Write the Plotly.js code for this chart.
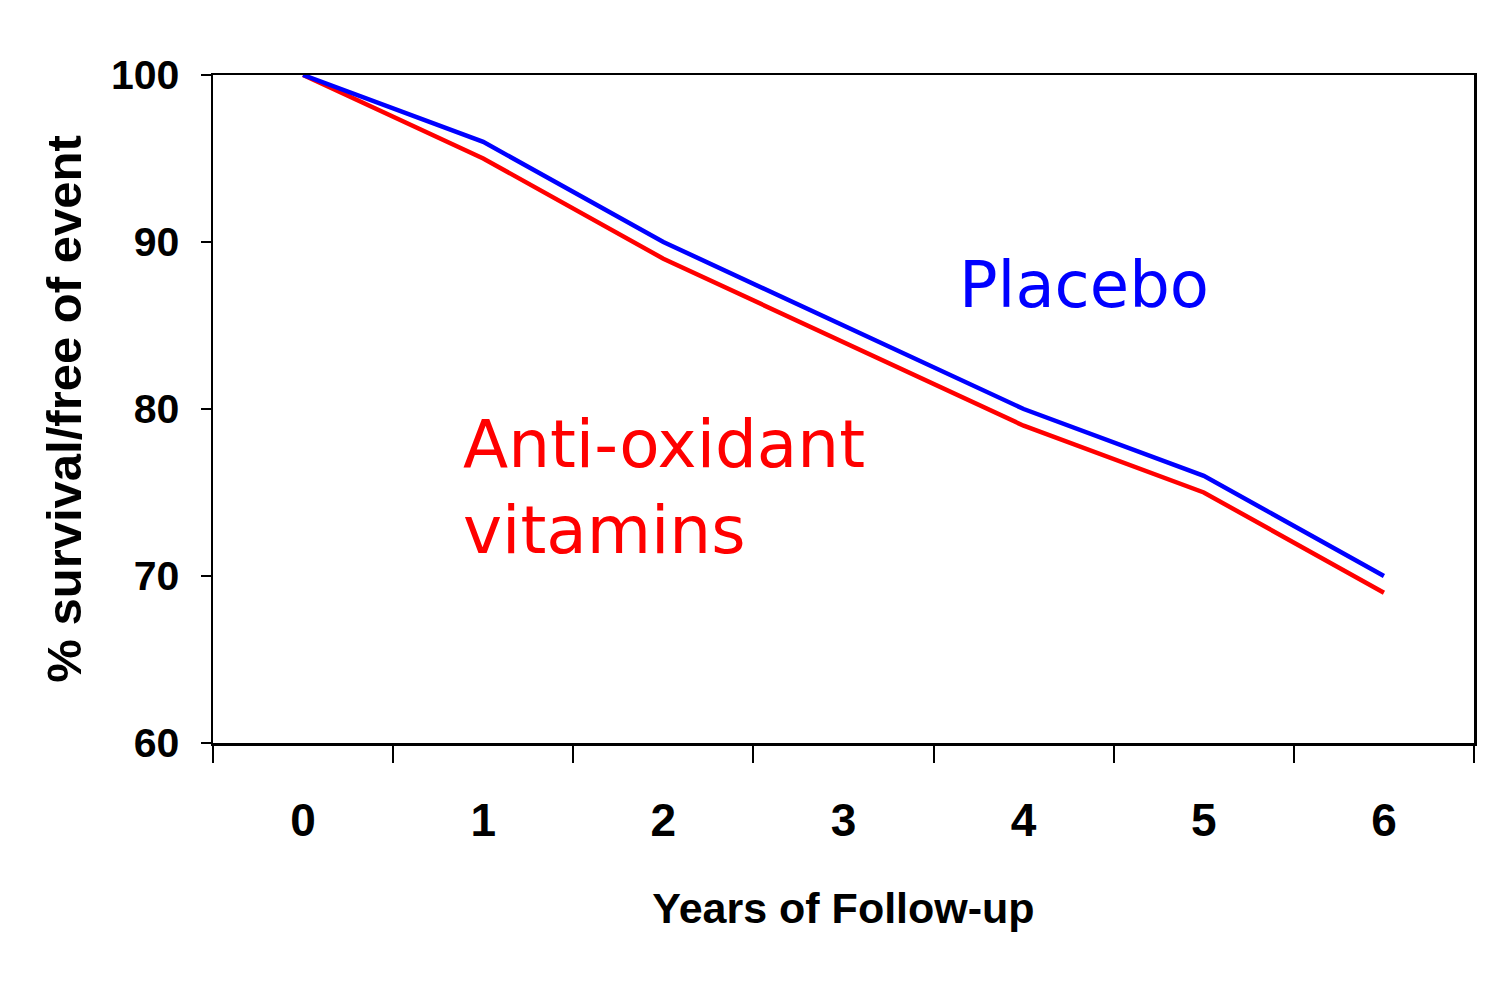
<!DOCTYPE html>
<html>
<head>
<meta charset="utf-8">
<script src="https://cdn.plot.ly/plotly-3.0.1.min.js"></script>
<style>html,body{margin:0;padding:0;background:#fff;}#chart{width:1502px;height:990px;}</style>
</head>
<body>
<div id="chart"></div>
<script>
const years = ['0', '1', '2', '3', '4', '5', '6'];
const placebo = [100, 96, 90, 85, 80, 76, 70];
const antioxidant = [100, 95, 89, 84, 79, 75, 69];
const yTicks = [60, 70, 80, 90, 100];

const arialBold = '"Liberation Sans", Arial, sans-serif';

const traces = [
  {x: years, y: antioxidant, type: 'scatter', mode: 'lines', name: 'Anti-oxidant vitamins',
   line: {color: '#FF0000', width: 4.5}},
  {x: years, y: placebo, type: 'scatter', mode: 'lines', name: 'Placebo',
   line: {color: '#0000FF', width: 4.5}}
];

const layout = {
  width: 1502, height: 990,
  margin: {l: 213, r: 28, t: 75, b: 247},
  paper_bgcolor: '#fff', plot_bgcolor: '#fff',
  showlegend: false,
  xaxis: {
    type: 'category', range: [-0.5, 6.5], tickson: 'boundaries',
    ticks: 'outside', ticklen: 17, tickwidth: 2, tickcolor: '#000',
    showline: true, linecolor: '#000', linewidth: 2.5, mirror: true,
    showgrid: false, zeroline: false,
    tickfont: {family: arialBold, size: 46, color: '#000', weight: 'bold'},
    ticklabelstandoff: 35,
    title: {text: '<b>Years of Follow-up</b>', font: {family: arialBold, size: 43, color: '#000'}, standoff: 48}
  },
  yaxis: {
    range: [60, 100], tickvals: yTicks, ticktext: yTicks.map(String),
    ticks: 'outside', ticklen: 10, tickwidth: 2, tickcolor: '#000',
    showline: true, linecolor: '#000', linewidth: 2.5, mirror: true,
    showgrid: false, zeroline: false,
    tickfont: {family: arialBold, size: 41, color: '#000', weight: 'bold'},
    ticklabelstandoff: 13,
    title: {text: '<b>% survival/free of event</b>', font: {family: arialBold, size: 49, color: '#000'}, standoff: 14}
  },
  annotations: [
    {xref: 'paper', yref: 'y', x: 0.590, y: 87.4, xanchor: 'left', yanchor: 'middle', showarrow: false,
     text: 'Placebo', font: {family: '"DejaVu Sans", Verdana, sans-serif', size: 64, color: '#0000FF'}},
    {xref: 'paper', yref: 'y', x: 0.197, y: 75.3, xanchor: 'left', yanchor: 'middle', showarrow: false, align: 'left',
     text: 'Anti-oxidant<br>vitamins', font: {family: '"DejaVu Sans", Verdana, sans-serif', size: 66, color: '#FF0000'}}
  ]
};

Plotly.newPlot('chart', traces, layout, {displayModeBar: false, staticPlot: true});
</script>
</body>
</html>
